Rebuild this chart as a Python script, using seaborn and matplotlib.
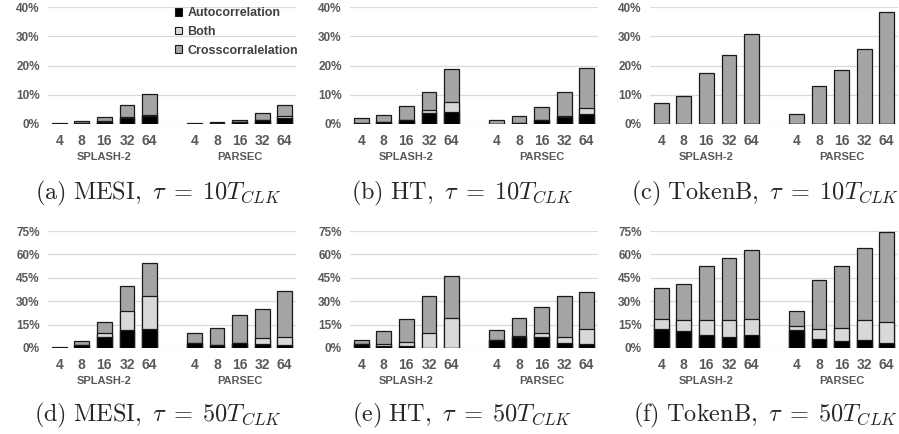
import matplotlib
matplotlib.use("Agg")
import matplotlib.pyplot as plt
import matplotlib.transforms as mtransforms
from matplotlib.patches import Patch
import pandas as pd
import seaborn as sns

# core counts and benchmark suites
cores = ["4", "8", "16", "32", "64"]
suites = ["SPLASH-2", "PARSEC"]

# values in percent, SPLASH-2 (4..64) then PARSEC (4..64)
mesi10_auto = [0.1, 0.2, 0.8, 2.2, 2.7, 0.1, 0.3, 0.6, 1.3, 2.0]
mesi10_both = [0.0, 0.0, 0.1, 0.1, 0.5, 0.0, 0.0, 0.1, 0.1, 0.6]
mesi10_cross = [0.2, 0.7, 1.4, 4.3, 7.1, 0.2, 0.3, 0.7, 2.5, 4.0]

ht10_auto = [0.3, 0.8, 1.5, 3.7, 4.1, 0.1, 0.4, 1.5, 2.4, 3.3]
ht10_both = [0.0, 0.0, 0.0, 1.0, 3.3, 0.0, 0.0, 0.0, 0.2, 2.3]
ht10_cross = [1.6, 2.4, 4.6, 6.4, 11.3, 1.2, 2.3, 4.2, 8.3, 13.7]

tokenb10_auto = [0, 0, 0, 0, 0, 0, 0, 0, 0, 0]
tokenb10_both = [0, 0, 0, 0, 0, 0, 0, 0, 0, 0]
tokenb10_cross = [7.1, 9.5, 17.6, 23.7, 30.6, 3.4, 12.9, 18.6, 25.7, 38.4]

mesi50_auto = [0.2, 1.7, 7.3, 11.4, 12.4, 3.0, 2.1, 3.0, 2.8, 2.1]
mesi50_both = [0.0, 0.0, 2.6, 12.0, 21.2, 0.0, 0.0, 0.2, 3.4, 5.2]
mesi50_cross = [0.2, 3.0, 7.0, 16.2, 21.0, 6.4, 10.5, 17.8, 19.1, 29.5]

ht50_auto = [2.4, 1.2, 1.3, 0.0, 0.0, 5.4, 7.1, 7.1, 3.2, 2.4]
ht50_both = [0.0, 1.2, 2.4, 9.5, 19.1, 0.0, 0.6, 2.6, 4.1, 9.9]
ht50_cross = [3.0, 8.3, 14.6, 24.0, 27.1, 6.4, 11.4, 16.3, 25.8, 23.4]

tokenb50_auto = [12.1, 11.0, 8.1, 7.3, 8.1, 11.4, 5.9, 4.2, 5.3, 3.5]
tokenb50_both = [6.8, 6.8, 10.1, 10.9, 10.8, 2.9, 6.4, 8.8, 12.5, 13.4]
tokenb50_cross = [19.8, 23.5, 34.3, 39.8, 44.0, 9.2, 31.2, 39.3, 46.6, 57.6]

panels = [
    ("(a)", "MESI", "10", mesi10_auto, mesi10_both, mesi10_cross),
    ("(b)", "HT", "10", ht10_auto, ht10_both, ht10_cross),
    ("(c)", "TokenB", "10", tokenb10_auto, tokenb10_both, tokenb10_cross),
    ("(d)", "MESI", "50", mesi50_auto, mesi50_both, mesi50_cross),
    ("(e)", "HT", "50", ht50_auto, ht50_both, ht50_cross),
    ("(f)", "TokenB", "50", tokenb50_auto, tokenb50_both, tokenb50_cross),
]

c_auto = "#000000"
c_both = "#d9d9d9"
c_cross = "#a5a5a5"
c_text = "#595959"

sns.set_theme(style="white")
plt.rcParams["font.family"] = ["Liberation Sans", "DejaVu Sans"]
plt.rcParams["mathtext.fontset"] = "cm"

W, H = 899, 434
fig = plt.figure(figsize=(W / 100, H / 100), dpi=100)

slots = [f"S{c}" for c in cores] + ["gap"] + [f"P{c}" for c in cores]
tick_labels = cores + [""] + cores

col_left = [48, 350, 650]
row_zero = [124, 348]
ax_w, ax_h = 248, 117
cap_x = [158, 462, 765]
cap_y = [193, 415]

for i, (tag, proto, tau, auto, both, cross) in enumerate(panels):
    row, col = divmod(i, 3)
    ax = fig.add_axes([col_left[col] / W, 1 - row_zero[row] / H, ax_w / W, ax_h / H])

    df = pd.DataFrame({
        "slot": [f"S{c}" for c in cores] + [f"P{c}" for c in cores],
        "auto": auto,
    })
    df["auto_both"] = df["auto"] + pd.Series(both)
    df["total"] = df["auto_both"] + pd.Series(cross)

    ymax, step = (40, 10) if row == 0 else (75, 15)
    ax.set_ylim(0, ymax)
    ax.set_yticks(range(0, ymax + 1, step))
    ax.yaxis.grid(True, color="#d9d9d9", linewidth=0.9)
    ax.set_axisbelow(True)

    # stacked look: draw cumulative totals on top of each other
    for col_name, colr in [("total", c_cross), ("auto_both", c_both), ("auto", c_auto)]:
        sns.barplot(data=df, x="slot", y=col_name, order=slots, color=colr,
                    width=0.65, edgecolor="#1a1a1a", linewidth=0.9,
                    saturation=1, errorbar=None, ax=ax)

    ax.set_xlim(-0.5, 10.5)
    ax.set_ylim(0, ymax)
    ax.set_xlabel("")
    ax.set_ylabel("")
    ax.set_xticks(range(11))
    ax.set_xticklabels(tick_labels)
    ax.set_yticklabels([f"{v}%" for v in range(0, ymax + 1, step)])
    ax.tick_params(axis="x", length=0, pad=7.5, labelsize=10, labelcolor=c_text)
    ax.tick_params(axis="y", length=0, pad=6, labelsize=8.5, labelcolor=c_text)
    for lab in ax.get_xticklabels() + ax.get_yticklabels():
        lab.set_fontweight("bold")
    sns.despine(ax=ax, left=True, bottom=True)

    trans = mtransforms.blended_transform_factory(ax.transData, ax.transAxes)
    for x, name in zip([2, 8], suites):
        ax.text(x, -0.236, name, transform=trans, ha="center", va="top",
                fontsize=8, fontweight="bold", color=c_text)

    fig.text(cap_x[col] / W, 1 - cap_y[row] / H,
             rf"$\mathrm{{{tag}\ {proto},}}\ \tau \;=\; {tau}T_{{CLK}}$",
             ha="center", va="center", fontsize=17.5)

    if i == 0:
        handles = [Patch(facecolor=c_auto, edgecolor="#1a1a1a", linewidth=0.8),
                   Patch(facecolor=c_both, edgecolor="#1a1a1a", linewidth=0.8),
                   Patch(facecolor=c_cross, edgecolor="#1a1a1a", linewidth=0.8)]
        leg = fig.legend(handles, ["Autocorrelation", "Both", "Crosscorralelation"],
                         loc="upper right", bbox_to_anchor=(298 / W, 1 - 7 / H),
                         frameon=False, handlelength=0.6, handleheight=0.6,
                         handletextpad=0.4, labelspacing=0.55, borderpad=0,
                         borderaxespad=0, prop={"weight": "bold", "size": 9})
        for t in leg.get_texts():
            t.set_color("#404040")

fig.savefig("out.png", dpi=100)
